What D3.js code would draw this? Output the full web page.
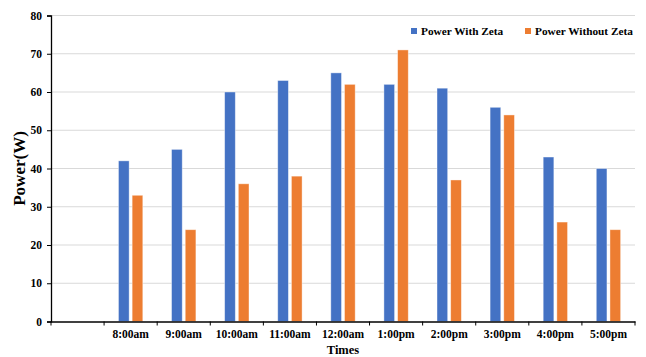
<!DOCTYPE html>
<html><head><meta charset="utf-8">
<script src="https://cdn.jsdelivr.net/npm/d3@7"></script>
<style>body{margin:0;background:#fff}svg{display:block}</style>
</head><body>
<svg id="c" width="646" height="357"></svg>
<script>
const categories = ["", "8:00am","9:00am","10:00am","11:00am","12:00am","1:00pm","2:00pm","3:00pm","4:00pm","5:00pm"];
const withZeta = [null, 42,45,60,63,65,62,61,56,43,40];
const withoutZeta = [null, 33,24,36,38,62,71,37,54,26,24];
const seriesNames = ["Power With Zeta","Power Without Zeta"];
const colors = ["#4472C4","#ED7D31"];
const yTicks = [0,10,20,30,40,50,60,70,80];

const svg = d3.select("#c");
const font = "'Liberation Serif','Times New Roman',serif";
const m = {l:51, r:11, t:15.5, b:35.5};
const W = 646, H = 357;
const x = d3.scaleBand().domain(categories.map((c,i)=>i)).range([m.l, W-m.r]).paddingInner(0).paddingOuter(0);
const y = d3.scaleLinear().domain([0,80]).range([H-m.b, m.t]);
const inner = d3.scaleBand().domain([0,1]).range([0, x.bandwidth()]).paddingOuter(1.05).paddingInner(0.22);

// gridlines
svg.append("g").selectAll("line").data(yTicks.filter(d=>d>0)).join("line")
  .attr("x1", m.l).attr("x2", W-m.r).attr("y1", d=>y(d)).attr("y2", d=>y(d))
  .attr("stroke","#d9d9d9").attr("stroke-width",1);

// bars
const series = [withZeta, withoutZeta];
series.forEach((vals, s) => {
  svg.append("g").selectAll("rect").data(vals.map((v,i)=>({v,i})).filter(d=>d.v!=null)).join("rect")
    .attr("x", d=>x(d.i)+inner(s)).attr("width", inner.bandwidth())
    .attr("y", d=>y(d.v)).attr("height", d=>y(0)-y(d.v))
    .attr("fill", colors[s]).attr("stroke","#fff").attr("stroke-opacity",0.5).attr("stroke-width",0.8);
});

// y axis
const ya = svg.append("g").attr("transform",`translate(${m.l},0)`)
  .call(d3.axisLeft(y).tickValues(yTicks).tickSize(4).tickPadding(5));
ya.select(".domain").attr("stroke","#000").attr("stroke-width",1.3);
ya.selectAll(".tick line").attr("stroke","#000");
ya.selectAll("text").attr("font-family",font).attr("font-weight","bold").attr("font-size",11.5).attr("fill","#000");

// x axis
const xa = svg.append("g").attr("transform",`translate(0,${y(0)})`)
  .call(d3.axisBottom(x).tickFormat(i=>categories[i]).tickSize(0).tickPadding(8));
xa.select(".domain").attr("stroke","#000").attr("stroke-width",1.3);
xa.selectAll("text").attr("font-family",font).attr("font-weight","bold").attr("font-size",11.5).attr("fill","#000");
const bounds = categories.map((c,i)=>x(i)).concat([x(categories.length-1)+x.bandwidth()]);
xa.append("g").selectAll("line").data(bounds).join("line")
  .attr("x1",d=>d).attr("x2",d=>d).attr("y1",0).attr("y2",4).attr("stroke","#000");

// axis titles
svg.append("text").attr("x", (m.l + W - m.r)/2).attr("y", 354)
  .attr("text-anchor","middle").attr("font-family",font).attr("font-weight","bold").attr("font-size",12.5).text("Times");
svg.append("text").attr("transform",`translate(25,${(m.t + H - m.b)/2}) rotate(-90)`)
  .attr("text-anchor","middle").attr("font-family",font).attr("font-weight","bold").attr("font-size",17).text("Power(W)");

// legend
const lg = svg.append("g");
const lx = [411, 525];
seriesNames.forEach((n,i)=>{
  lg.append("rect").attr("x",lx[i]).attr("y",28).attr("width",6).attr("height",6).attr("fill",colors[i]);
  lg.append("text").attr("x",lx[i]+10).attr("y",35).attr("font-family",font).attr("font-weight","bold").attr("font-size",11.3).text(n);
});
</script>
</body></html>
